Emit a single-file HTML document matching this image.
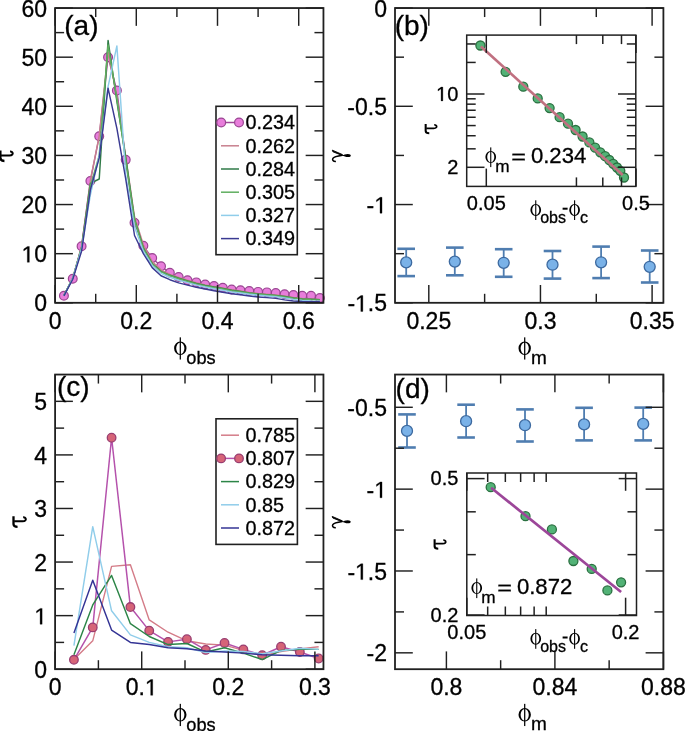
<!DOCTYPE html>
<html><head><meta charset="utf-8"><style>
html,body{margin:0;padding:0;background:#fff;width:685px;height:731px;overflow:hidden}
svg{display:block;will-change:transform}
text{stroke:#000;stroke-width:0.3px}
</style></head><body>
<svg width="685" height="731" viewBox="0 0 685 731">
<rect width="685" height="731" fill="#fff"/>
<defs>
<clipPath id="ca"><rect x="55.1" y="8.05" width="268.34999999999997" height="294.75"/></clipPath>
<clipPath id="cb"><rect x="395.0" y="8.05" width="268.4" height="294.75"/></clipPath>
<clipPath id="cc"><rect x="55.1" y="374.55" width="268.34999999999997" height="294.65000000000003"/></clipPath>
<clipPath id="cd"><rect x="395.0" y="374.55" width="268.4" height="294.65000000000003"/></clipPath>
</defs>
<polyline points="63.93,295.68 72.75,278.73 81.58,246.31 90.40,180.97 99.23,136.27 108.06,57.18 116.88,90.58 125.71,159.85 134.53,222.73 143.36,245.81 152.19,258.10 161.01,266.20 169.84,272.83 178.66,277.01 187.49,280.20 196.32,282.41 205.14,284.62 213.97,286.10 222.79,287.82 231.62,289.54 240.45,290.27 249.27,291.01 258.10,291.89 266.92,292.39 275.75,293.07 284.58,294.20 293.40,294.94 302.23,295.78 311.05,295.78 319.88,298.03" fill="none" stroke="#a0489a" stroke-width="1.4" stroke-linejoin="round" clip-path="url(#ca)"/>
<circle cx="63.93" cy="295.68" r="4.4" fill="#e87ddb" stroke="#9a4592" stroke-width="1.2"/>
<circle cx="72.75" cy="278.73" r="4.4" fill="#e87ddb" stroke="#9a4592" stroke-width="1.2"/>
<circle cx="81.58" cy="246.31" r="4.4" fill="#e87ddb" stroke="#9a4592" stroke-width="1.2"/>
<circle cx="90.40" cy="180.97" r="4.4" fill="#e87ddb" stroke="#9a4592" stroke-width="1.2"/>
<circle cx="99.23" cy="136.27" r="4.4" fill="#e87ddb" stroke="#9a4592" stroke-width="1.2"/>
<circle cx="108.06" cy="57.18" r="4.4" fill="#e87ddb" stroke="#9a4592" stroke-width="1.2"/>
<circle cx="116.88" cy="90.58" r="4.4" fill="#e87ddb" stroke="#9a4592" stroke-width="1.2"/>
<circle cx="125.71" cy="159.85" r="4.4" fill="#e87ddb" stroke="#9a4592" stroke-width="1.2"/>
<circle cx="134.53" cy="222.73" r="4.4" fill="#e87ddb" stroke="#9a4592" stroke-width="1.2"/>
<circle cx="143.36" cy="245.81" r="4.4" fill="#e87ddb" stroke="#9a4592" stroke-width="1.2"/>
<circle cx="152.19" cy="258.10" r="4.4" fill="#e87ddb" stroke="#9a4592" stroke-width="1.2"/>
<circle cx="161.01" cy="266.20" r="4.4" fill="#e87ddb" stroke="#9a4592" stroke-width="1.2"/>
<circle cx="169.84" cy="272.83" r="4.4" fill="#e87ddb" stroke="#9a4592" stroke-width="1.2"/>
<circle cx="178.66" cy="277.01" r="4.4" fill="#e87ddb" stroke="#9a4592" stroke-width="1.2"/>
<circle cx="187.49" cy="280.20" r="4.4" fill="#e87ddb" stroke="#9a4592" stroke-width="1.2"/>
<circle cx="196.32" cy="282.41" r="4.4" fill="#e87ddb" stroke="#9a4592" stroke-width="1.2"/>
<circle cx="205.14" cy="284.62" r="4.4" fill="#e87ddb" stroke="#9a4592" stroke-width="1.2"/>
<circle cx="213.97" cy="286.10" r="4.4" fill="#e87ddb" stroke="#9a4592" stroke-width="1.2"/>
<circle cx="222.79" cy="287.82" r="4.4" fill="#e87ddb" stroke="#9a4592" stroke-width="1.2"/>
<circle cx="231.62" cy="289.54" r="4.4" fill="#e87ddb" stroke="#9a4592" stroke-width="1.2"/>
<circle cx="240.45" cy="290.27" r="4.4" fill="#e87ddb" stroke="#9a4592" stroke-width="1.2"/>
<circle cx="249.27" cy="291.01" r="4.4" fill="#e87ddb" stroke="#9a4592" stroke-width="1.2"/>
<circle cx="258.10" cy="291.89" r="4.4" fill="#e87ddb" stroke="#9a4592" stroke-width="1.2"/>
<circle cx="266.92" cy="292.39" r="4.4" fill="#e87ddb" stroke="#9a4592" stroke-width="1.2"/>
<circle cx="275.75" cy="293.07" r="4.4" fill="#e87ddb" stroke="#9a4592" stroke-width="1.2"/>
<circle cx="284.58" cy="294.20" r="4.4" fill="#e87ddb" stroke="#9a4592" stroke-width="1.2"/>
<circle cx="293.40" cy="294.94" r="4.4" fill="#e87ddb" stroke="#9a4592" stroke-width="1.2"/>
<circle cx="302.23" cy="295.78" r="4.4" fill="#e87ddb" stroke="#9a4592" stroke-width="1.2"/>
<circle cx="311.05" cy="295.78" r="4.4" fill="#e87ddb" stroke="#9a4592" stroke-width="1.2"/>
<circle cx="319.88" cy="298.03" r="4.4" fill="#e87ddb" stroke="#9a4592" stroke-width="1.2"/>
<polyline points="63.93,295.43 72.75,278.24 81.58,246.31 90.40,179.99 99.23,135.78 108.06,52.26 116.88,96.48 125.71,156.41 134.53,216.83 143.36,244.83 152.19,261.54 161.01,269.89 169.84,274.31 178.66,277.50 187.49,280.20 196.32,282.66 205.14,284.87 213.97,286.59 222.79,288.06 231.62,289.78 240.45,291.01 249.27,292.48 258.10,293.47 266.92,294.20 275.75,294.94 284.58,295.92 293.40,297.40 302.23,298.38 311.05,298.87 319.88,299.36" fill="none" stroke="#c8808e" stroke-width="1.45" stroke-linejoin="round" clip-path="url(#ca)"/>
<polyline points="63.93,295.43 72.75,278.24 81.58,247.78 90.40,183.43 99.23,179.00 108.06,40.47 116.88,101.39 125.71,157.39 134.53,219.29 143.36,247.78 152.19,263.50 161.01,271.36 169.84,275.29 178.66,278.24 187.49,280.94 196.32,283.40 205.14,285.36 213.97,287.08 222.79,288.55 231.62,290.27 240.45,291.50 249.27,292.98 258.10,293.96 266.92,294.69 275.75,295.43 284.58,296.41 293.40,297.89 302.23,298.87 311.05,299.26 319.88,299.61" fill="none" stroke="#2f7a47" stroke-width="1.45" stroke-linejoin="round" clip-path="url(#ca)"/>
<polyline points="63.93,295.43 72.75,278.24 81.58,247.78 90.40,185.88 99.23,155.43 108.06,44.89 116.88,98.93 125.71,160.34 134.53,220.27 143.36,248.76 152.19,263.99 161.01,271.85 169.84,275.78 178.66,278.73 187.49,281.43 196.32,283.89 205.14,285.85 213.97,287.57 222.79,289.05 231.62,290.76 240.45,291.99 249.27,293.22 258.10,294.20 266.92,294.94 275.75,295.68 284.58,296.91 293.40,298.13 302.23,299.12 311.05,299.61 319.88,299.85" fill="none" stroke="#5fae5f" stroke-width="1.45" stroke-linejoin="round" clip-path="url(#ca)"/>
<polyline points="63.93,295.92 72.75,278.24 81.58,248.76 90.40,194.73 99.23,155.43 108.06,86.65 116.88,45.88 125.71,175.08 134.53,226.66 143.36,251.22 152.19,265.47 161.01,273.32 169.84,277.25 178.66,280.20 187.49,282.66 196.32,285.12 205.14,287.08 213.97,288.80 222.79,290.27 231.62,291.99 240.45,292.98 249.27,294.20 258.10,295.19 266.92,295.92 275.75,296.66 284.58,297.89 293.40,299.36 302.23,300.59 311.05,301.08 319.88,301.33" fill="none" stroke="#90cdea" stroke-width="1.45" stroke-linejoin="round" clip-path="url(#ca)"/>
<polyline points="63.93,295.92 72.75,279.22 81.58,251.22 90.40,189.81 99.23,157.88 108.06,88.12 116.88,128.41 125.71,179.00 134.53,235.50 143.36,253.68 152.19,267.63 161.01,275.78 169.84,279.71 178.66,282.90 187.49,285.12 196.32,287.33 205.14,289.05 213.97,290.76 222.79,292.24 231.62,293.71 240.45,294.69 249.27,295.92 258.10,296.91 266.92,297.64 275.75,298.38 284.58,299.85 293.40,301.08 302.23,301.57 311.05,301.82 319.88,301.82" fill="none" stroke="#3a3a92" stroke-width="1.45" stroke-linejoin="round" clip-path="url(#ca)"/>
<line x1="55.10" y1="302.80" x2="55.10" y2="285.00" stroke="#202020" stroke-width="1.45" stroke-linecap="butt"/>
<line x1="55.10" y1="8.05" x2="55.10" y2="25.85" stroke="#202020" stroke-width="1.45" stroke-linecap="butt"/>
<line x1="136.30" y1="302.80" x2="136.30" y2="285.00" stroke="#202020" stroke-width="1.45" stroke-linecap="butt"/>
<line x1="136.30" y1="8.05" x2="136.30" y2="25.85" stroke="#202020" stroke-width="1.45" stroke-linecap="butt"/>
<line x1="217.50" y1="302.80" x2="217.50" y2="285.00" stroke="#202020" stroke-width="1.45" stroke-linecap="butt"/>
<line x1="217.50" y1="8.05" x2="217.50" y2="25.85" stroke="#202020" stroke-width="1.45" stroke-linecap="butt"/>
<line x1="298.70" y1="302.80" x2="298.70" y2="285.00" stroke="#202020" stroke-width="1.45" stroke-linecap="butt"/>
<line x1="298.70" y1="8.05" x2="298.70" y2="25.85" stroke="#202020" stroke-width="1.45" stroke-linecap="butt"/>
<line x1="95.70" y1="302.80" x2="95.70" y2="293.80" stroke="#202020" stroke-width="1.45" stroke-linecap="butt"/>
<line x1="95.70" y1="8.05" x2="95.70" y2="17.05" stroke="#202020" stroke-width="1.45" stroke-linecap="butt"/>
<line x1="176.90" y1="302.80" x2="176.90" y2="293.80" stroke="#202020" stroke-width="1.45" stroke-linecap="butt"/>
<line x1="176.90" y1="8.05" x2="176.90" y2="17.05" stroke="#202020" stroke-width="1.45" stroke-linecap="butt"/>
<line x1="258.10" y1="302.80" x2="258.10" y2="293.80" stroke="#202020" stroke-width="1.45" stroke-linecap="butt"/>
<line x1="258.10" y1="8.05" x2="258.10" y2="17.05" stroke="#202020" stroke-width="1.45" stroke-linecap="butt"/>
<line x1="55.10" y1="302.80" x2="72.90" y2="302.80" stroke="#202020" stroke-width="1.45" stroke-linecap="butt"/>
<line x1="323.45" y1="302.80" x2="305.65" y2="302.80" stroke="#202020" stroke-width="1.45" stroke-linecap="butt"/>
<line x1="55.10" y1="253.68" x2="72.90" y2="253.68" stroke="#202020" stroke-width="1.45" stroke-linecap="butt"/>
<line x1="323.45" y1="253.68" x2="305.65" y2="253.68" stroke="#202020" stroke-width="1.45" stroke-linecap="butt"/>
<line x1="55.10" y1="204.55" x2="72.90" y2="204.55" stroke="#202020" stroke-width="1.45" stroke-linecap="butt"/>
<line x1="323.45" y1="204.55" x2="305.65" y2="204.55" stroke="#202020" stroke-width="1.45" stroke-linecap="butt"/>
<line x1="55.10" y1="155.43" x2="72.90" y2="155.43" stroke="#202020" stroke-width="1.45" stroke-linecap="butt"/>
<line x1="323.45" y1="155.43" x2="305.65" y2="155.43" stroke="#202020" stroke-width="1.45" stroke-linecap="butt"/>
<line x1="55.10" y1="106.30" x2="72.90" y2="106.30" stroke="#202020" stroke-width="1.45" stroke-linecap="butt"/>
<line x1="323.45" y1="106.30" x2="305.65" y2="106.30" stroke="#202020" stroke-width="1.45" stroke-linecap="butt"/>
<line x1="55.10" y1="57.18" x2="72.90" y2="57.18" stroke="#202020" stroke-width="1.45" stroke-linecap="butt"/>
<line x1="323.45" y1="57.18" x2="305.65" y2="57.18" stroke="#202020" stroke-width="1.45" stroke-linecap="butt"/>
<line x1="55.10" y1="8.05" x2="72.90" y2="8.05" stroke="#202020" stroke-width="1.45" stroke-linecap="butt"/>
<line x1="323.45" y1="8.05" x2="305.65" y2="8.05" stroke="#202020" stroke-width="1.45" stroke-linecap="butt"/>
<line x1="55.10" y1="278.24" x2="64.10" y2="278.24" stroke="#202020" stroke-width="1.45" stroke-linecap="butt"/>
<line x1="323.45" y1="278.24" x2="314.45" y2="278.24" stroke="#202020" stroke-width="1.45" stroke-linecap="butt"/>
<line x1="55.10" y1="229.11" x2="64.10" y2="229.11" stroke="#202020" stroke-width="1.45" stroke-linecap="butt"/>
<line x1="323.45" y1="229.11" x2="314.45" y2="229.11" stroke="#202020" stroke-width="1.45" stroke-linecap="butt"/>
<line x1="55.10" y1="179.99" x2="64.10" y2="179.99" stroke="#202020" stroke-width="1.45" stroke-linecap="butt"/>
<line x1="323.45" y1="179.99" x2="314.45" y2="179.99" stroke="#202020" stroke-width="1.45" stroke-linecap="butt"/>
<line x1="55.10" y1="130.86" x2="64.10" y2="130.86" stroke="#202020" stroke-width="1.45" stroke-linecap="butt"/>
<line x1="323.45" y1="130.86" x2="314.45" y2="130.86" stroke="#202020" stroke-width="1.45" stroke-linecap="butt"/>
<line x1="55.10" y1="81.74" x2="64.10" y2="81.74" stroke="#202020" stroke-width="1.45" stroke-linecap="butt"/>
<line x1="323.45" y1="81.74" x2="314.45" y2="81.74" stroke="#202020" stroke-width="1.45" stroke-linecap="butt"/>
<line x1="55.10" y1="32.61" x2="64.10" y2="32.61" stroke="#202020" stroke-width="1.45" stroke-linecap="butt"/>
<line x1="323.45" y1="32.61" x2="314.45" y2="32.61" stroke="#202020" stroke-width="1.45" stroke-linecap="butt"/>
<rect x="55.10" y="8.05" width="268.35" height="294.75" stroke="#202020" stroke-width="1.8" fill="none"/>
<text x="55.10" y="328.90" font-family="Liberation Sans" font-size="23" text-anchor="middle">0</text>
<text x="136.30" y="328.90" font-family="Liberation Sans" font-size="23" text-anchor="middle">0.2</text>
<text x="217.50" y="328.90" font-family="Liberation Sans" font-size="23" text-anchor="middle">0.4</text>
<text x="298.70" y="328.90" font-family="Liberation Sans" font-size="23" text-anchor="middle">0.6</text>
<text x="47.10" y="311.41" font-family="Liberation Sans" font-size="23" text-anchor="end">0</text>
<g transform="translate(47.10,262.29)"><path transform="translate(-25.58,0) scale(0.011230,-0.011230)" d="M515,0 L515,1237 L197,1010 L197,1180 L530,1409 L696,1409 L696,0 Z" fill="#000" stroke="#000" stroke-width="26.7"/><text x="-12.79" y="0" font-family="Liberation Sans" font-size="23">0</text></g>
<text x="47.10" y="213.16" font-family="Liberation Sans" font-size="23" text-anchor="end">20</text>
<text x="47.10" y="164.04" font-family="Liberation Sans" font-size="23" text-anchor="end">30</text>
<text x="47.10" y="114.91" font-family="Liberation Sans" font-size="23" text-anchor="end">40</text>
<text x="47.10" y="65.79" font-family="Liberation Sans" font-size="23" text-anchor="end">50</text>
<text x="47.10" y="16.66" font-family="Liberation Sans" font-size="23" text-anchor="end">60</text>
<text x="64.30" y="35.00" font-family="Liberation Sans" font-size="28" text-anchor="start">(a)</text>
<rect x="216.00" y="106.30" width="81.30" height="148.40" stroke="#202020" stroke-width="1.6" fill="#fff"/>
<line x1="221.00" y1="122.50" x2="239.00" y2="122.50" stroke="#a0489a" stroke-width="1.5" stroke-linecap="butt"/>
<circle cx="221.20" cy="122.50" r="4.4" fill="#e87ddb" stroke="#9a4592" stroke-width="1.2"/>
<circle cx="239.00" cy="122.50" r="4.4" fill="#e87ddb" stroke="#9a4592" stroke-width="1.2"/>
<text x="245.60" y="129.31" font-family="Liberation Sans" font-size="19.8" text-anchor="start">0.234</text>
<line x1="221.00" y1="145.80" x2="239.00" y2="145.80" stroke="#c8808e" stroke-width="1.5" stroke-linecap="butt"/>
<text x="245.60" y="152.61" font-family="Liberation Sans" font-size="19.8" text-anchor="start">0.262</text>
<line x1="221.00" y1="169.00" x2="239.00" y2="169.00" stroke="#2f7a47" stroke-width="1.5" stroke-linecap="butt"/>
<text x="245.60" y="175.81" font-family="Liberation Sans" font-size="19.8" text-anchor="start">0.284</text>
<line x1="221.00" y1="192.20" x2="239.00" y2="192.20" stroke="#5fae5f" stroke-width="1.5" stroke-linecap="butt"/>
<text x="245.60" y="199.01" font-family="Liberation Sans" font-size="19.8" text-anchor="start">0.305</text>
<line x1="221.00" y1="215.40" x2="239.00" y2="215.40" stroke="#90cdea" stroke-width="1.5" stroke-linecap="butt"/>
<text x="245.60" y="222.21" font-family="Liberation Sans" font-size="19.8" text-anchor="start">0.327</text>
<line x1="221.00" y1="238.60" x2="239.00" y2="238.60" stroke="#3a3a92" stroke-width="1.5" stroke-linecap="butt"/>
<text x="245.60" y="245.41" font-family="Liberation Sans" font-size="19.8" text-anchor="start">0.349</text>
<path d="M174.10,348.30 A6.2,6.75 0 1 0 186.50,348.30 A6.2,6.75 0 1 0 174.10,348.30 Z M176.20,348.30 A4.1,5.8 0 1 0 184.40,348.30 A4.1,5.8 0 1 0 176.20,348.30 Z" fill="#000" fill-rule="evenodd"/>
<rect x="179.68" y="337.35" width="1.25" height="22.20" fill="#000"/>
<text transform="translate(186.30,364.00) scale(0.96,1)" font-family="Liberation Sans" font-size="19" text-anchor="start">obs</text>
<line x1="406.20" y1="248.80" x2="406.20" y2="276.10" stroke="#4f7db0" stroke-width="1.8" stroke-linecap="butt"/>
<line x1="397.40" y1="248.80" x2="415.00" y2="248.80" stroke="#4f7db0" stroke-width="2.6" stroke-linecap="butt"/>
<line x1="397.40" y1="276.10" x2="415.00" y2="276.10" stroke="#4f7db0" stroke-width="2.6" stroke-linecap="butt"/>
<circle cx="406.20" cy="262.40" r="5.5" fill="#7ab2e8" stroke="#3d6aa0" stroke-width="1.3"/>
<line x1="454.80" y1="247.60" x2="454.80" y2="275.30" stroke="#4f7db0" stroke-width="1.8" stroke-linecap="butt"/>
<line x1="446.00" y1="247.60" x2="463.60" y2="247.60" stroke="#4f7db0" stroke-width="2.6" stroke-linecap="butt"/>
<line x1="446.00" y1="275.30" x2="463.60" y2="275.30" stroke="#4f7db0" stroke-width="2.6" stroke-linecap="butt"/>
<circle cx="454.80" cy="261.60" r="5.5" fill="#7ab2e8" stroke="#3d6aa0" stroke-width="1.3"/>
<line x1="503.70" y1="249.20" x2="503.70" y2="276.80" stroke="#4f7db0" stroke-width="1.8" stroke-linecap="butt"/>
<line x1="494.90" y1="249.20" x2="512.50" y2="249.20" stroke="#4f7db0" stroke-width="2.6" stroke-linecap="butt"/>
<line x1="494.90" y1="276.80" x2="512.50" y2="276.80" stroke="#4f7db0" stroke-width="2.6" stroke-linecap="butt"/>
<circle cx="503.70" cy="262.80" r="5.5" fill="#7ab2e8" stroke="#3d6aa0" stroke-width="1.3"/>
<line x1="552.50" y1="251.00" x2="552.50" y2="278.60" stroke="#4f7db0" stroke-width="1.8" stroke-linecap="butt"/>
<line x1="543.70" y1="251.00" x2="561.30" y2="251.00" stroke="#4f7db0" stroke-width="2.6" stroke-linecap="butt"/>
<line x1="543.70" y1="278.60" x2="561.30" y2="278.60" stroke="#4f7db0" stroke-width="2.6" stroke-linecap="butt"/>
<circle cx="552.50" cy="264.70" r="5.5" fill="#7ab2e8" stroke="#3d6aa0" stroke-width="1.3"/>
<line x1="601.10" y1="246.60" x2="601.10" y2="278.10" stroke="#4f7db0" stroke-width="1.8" stroke-linecap="butt"/>
<line x1="592.30" y1="246.60" x2="609.90" y2="246.60" stroke="#4f7db0" stroke-width="2.6" stroke-linecap="butt"/>
<line x1="592.30" y1="278.10" x2="609.90" y2="278.10" stroke="#4f7db0" stroke-width="2.6" stroke-linecap="butt"/>
<circle cx="601.10" cy="262.30" r="5.5" fill="#7ab2e8" stroke="#3d6aa0" stroke-width="1.3"/>
<line x1="649.70" y1="250.50" x2="649.70" y2="282.50" stroke="#4f7db0" stroke-width="1.8" stroke-linecap="butt"/>
<line x1="640.90" y1="250.50" x2="658.50" y2="250.50" stroke="#4f7db0" stroke-width="2.6" stroke-linecap="butt"/>
<line x1="640.90" y1="282.50" x2="658.50" y2="282.50" stroke="#4f7db0" stroke-width="2.6" stroke-linecap="butt"/>
<circle cx="649.70" cy="266.80" r="5.5" fill="#7ab2e8" stroke="#3d6aa0" stroke-width="1.3"/>
<line x1="428.80" y1="302.80" x2="428.80" y2="285.00" stroke="#202020" stroke-width="1.45" stroke-linecap="butt"/>
<line x1="428.80" y1="8.05" x2="428.80" y2="25.85" stroke="#202020" stroke-width="1.45" stroke-linecap="butt"/>
<line x1="540.45" y1="302.80" x2="540.45" y2="285.00" stroke="#202020" stroke-width="1.45" stroke-linecap="butt"/>
<line x1="540.45" y1="8.05" x2="540.45" y2="25.85" stroke="#202020" stroke-width="1.45" stroke-linecap="butt"/>
<line x1="652.10" y1="302.80" x2="652.10" y2="285.00" stroke="#202020" stroke-width="1.45" stroke-linecap="butt"/>
<line x1="652.10" y1="8.05" x2="652.10" y2="25.85" stroke="#202020" stroke-width="1.45" stroke-linecap="butt"/>
<line x1="484.63" y1="302.80" x2="484.63" y2="293.80" stroke="#202020" stroke-width="1.45" stroke-linecap="butt"/>
<line x1="484.63" y1="8.05" x2="484.63" y2="17.05" stroke="#202020" stroke-width="1.45" stroke-linecap="butt"/>
<line x1="596.28" y1="302.80" x2="596.28" y2="293.80" stroke="#202020" stroke-width="1.45" stroke-linecap="butt"/>
<line x1="596.28" y1="8.05" x2="596.28" y2="17.05" stroke="#202020" stroke-width="1.45" stroke-linecap="butt"/>
<line x1="395.00" y1="8.05" x2="412.80" y2="8.05" stroke="#202020" stroke-width="1.45" stroke-linecap="butt"/>
<line x1="663.40" y1="8.05" x2="645.60" y2="8.05" stroke="#202020" stroke-width="1.45" stroke-linecap="butt"/>
<line x1="395.00" y1="106.30" x2="412.80" y2="106.30" stroke="#202020" stroke-width="1.45" stroke-linecap="butt"/>
<line x1="663.40" y1="106.30" x2="645.60" y2="106.30" stroke="#202020" stroke-width="1.45" stroke-linecap="butt"/>
<line x1="395.00" y1="204.55" x2="412.80" y2="204.55" stroke="#202020" stroke-width="1.45" stroke-linecap="butt"/>
<line x1="663.40" y1="204.55" x2="645.60" y2="204.55" stroke="#202020" stroke-width="1.45" stroke-linecap="butt"/>
<line x1="395.00" y1="302.80" x2="412.80" y2="302.80" stroke="#202020" stroke-width="1.45" stroke-linecap="butt"/>
<line x1="663.40" y1="302.80" x2="645.60" y2="302.80" stroke="#202020" stroke-width="1.45" stroke-linecap="butt"/>
<line x1="395.00" y1="57.17" x2="404.00" y2="57.17" stroke="#202020" stroke-width="1.45" stroke-linecap="butt"/>
<line x1="663.40" y1="57.17" x2="654.40" y2="57.17" stroke="#202020" stroke-width="1.45" stroke-linecap="butt"/>
<line x1="395.00" y1="155.43" x2="404.00" y2="155.43" stroke="#202020" stroke-width="1.45" stroke-linecap="butt"/>
<line x1="663.40" y1="155.43" x2="654.40" y2="155.43" stroke="#202020" stroke-width="1.45" stroke-linecap="butt"/>
<line x1="395.00" y1="253.68" x2="404.00" y2="253.68" stroke="#202020" stroke-width="1.45" stroke-linecap="butt"/>
<line x1="663.40" y1="253.68" x2="654.40" y2="253.68" stroke="#202020" stroke-width="1.45" stroke-linecap="butt"/>
<rect x="395.00" y="8.05" width="268.40" height="294.75" stroke="#202020" stroke-width="1.8" fill="none"/>
<text x="428.80" y="328.90" font-family="Liberation Sans" font-size="23" text-anchor="middle">0.25</text>
<text x="540.45" y="328.90" font-family="Liberation Sans" font-size="23" text-anchor="middle">0.3</text>
<text x="652.10" y="328.90" font-family="Liberation Sans" font-size="23" text-anchor="middle">0.35</text>
<text x="387.00" y="16.66" font-family="Liberation Sans" font-size="23" text-anchor="end">0</text>
<text x="387.00" y="114.91" font-family="Liberation Sans" font-size="23" text-anchor="end">-0.5</text>
<g transform="translate(387.00,213.16)"><text x="-20.45" y="0" font-family="Liberation Sans" font-size="23">-</text><path transform="translate(-12.79,0) scale(0.011230,-0.011230)" d="M515,0 L515,1237 L197,1010 L197,1180 L530,1409 L696,1409 L696,0 Z" fill="#000" stroke="#000" stroke-width="26.7"/></g>
<g transform="translate(387.00,311.41)"><text x="-39.63" y="0" font-family="Liberation Sans" font-size="23">-</text><path transform="translate(-31.97,0) scale(0.011230,-0.011230)" d="M515,0 L515,1237 L197,1010 L197,1180 L530,1409 L696,1409 L696,0 Z" fill="#000" stroke="#000" stroke-width="26.7"/><text x="-19.18" y="0" font-family="Liberation Sans" font-size="23">.5</text></g>
<text x="394.70" y="35.40" font-family="Liberation Sans" font-size="28" text-anchor="start">(b)</text>
<path d="M518.50,348.30 A6.2,6.75 0 1 0 530.90,348.30 A6.2,6.75 0 1 0 518.50,348.30 Z M520.60,348.30 A4.1,5.8 0 1 0 528.80,348.30 A4.1,5.8 0 1 0 520.60,348.30 Z" fill="#000" fill-rule="evenodd"/>
<rect x="524.08" y="337.35" width="1.25" height="22.20" fill="#000"/>
<text x="531.00" y="363.90" font-family="Liberation Sans" font-size="19" text-anchor="start">m</text>
<defs>
<clipPath id="cib"><rect x="466.7" y="35.1" width="169.09999999999997" height="151.3"/></clipPath>
</defs>
<rect x="466.7" y="35.1" width="169.1" height="151.3" fill="#fff"/>
<circle cx="480.40" cy="45.50" r="4.5" fill="#52b276" stroke="#2a7040" stroke-width="1.3"/>
<circle cx="505.60" cy="71.80" r="4.5" fill="#52b276" stroke="#2a7040" stroke-width="1.3"/>
<circle cx="523.30" cy="86.70" r="4.5" fill="#52b276" stroke="#2a7040" stroke-width="1.3"/>
<circle cx="537.70" cy="98.40" r="4.5" fill="#52b276" stroke="#2a7040" stroke-width="1.3"/>
<circle cx="549.60" cy="108.10" r="4.5" fill="#52b276" stroke="#2a7040" stroke-width="1.3"/>
<circle cx="559.60" cy="117.20" r="4.5" fill="#52b276" stroke="#2a7040" stroke-width="1.3"/>
<circle cx="568.00" cy="123.70" r="4.5" fill="#52b276" stroke="#2a7040" stroke-width="1.3"/>
<circle cx="575.60" cy="130.00" r="4.5" fill="#52b276" stroke="#2a7040" stroke-width="1.3"/>
<circle cx="582.60" cy="136.50" r="4.5" fill="#52b276" stroke="#2a7040" stroke-width="1.3"/>
<circle cx="589.40" cy="142.40" r="4.5" fill="#52b276" stroke="#2a7040" stroke-width="1.3"/>
<circle cx="595.10" cy="147.70" r="4.5" fill="#52b276" stroke="#2a7040" stroke-width="1.3"/>
<circle cx="600.30" cy="152.30" r="4.5" fill="#52b276" stroke="#2a7040" stroke-width="1.3"/>
<circle cx="605.10" cy="156.20" r="4.5" fill="#52b276" stroke="#2a7040" stroke-width="1.3"/>
<circle cx="609.30" cy="160.00" r="4.5" fill="#52b276" stroke="#2a7040" stroke-width="1.3"/>
<circle cx="613.20" cy="163.80" r="4.5" fill="#52b276" stroke="#2a7040" stroke-width="1.3"/>
<circle cx="617.00" cy="167.50" r="4.5" fill="#52b276" stroke="#2a7040" stroke-width="1.3"/>
<circle cx="620.30" cy="170.80" r="4.5" fill="#52b276" stroke="#2a7040" stroke-width="1.3"/>
<circle cx="624.00" cy="177.50" r="4.5" fill="#52b276" stroke="#2a7040" stroke-width="1.3"/>
<polyline points="480.90,46.40 622.70,175.00" fill="none" stroke="#c07080" stroke-width="2.7" stroke-linejoin="round" clip-path="url(#cib)"/>
<line x1="486.30" y1="186.40" x2="486.30" y2="168.60" stroke="#202020" stroke-width="1.5" stroke-linecap="butt"/>
<line x1="486.30" y1="35.10" x2="486.30" y2="52.90" stroke="#202020" stroke-width="1.5" stroke-linecap="butt"/>
<line x1="636.00" y1="186.40" x2="636.00" y2="168.60" stroke="#202020" stroke-width="1.5" stroke-linecap="butt"/>
<line x1="636.00" y1="35.10" x2="636.00" y2="52.90" stroke="#202020" stroke-width="1.5" stroke-linecap="butt"/>
<line x1="576.43" y1="186.40" x2="576.43" y2="177.40" stroke="#202020" stroke-width="1.5" stroke-linecap="butt"/>
<line x1="576.43" y1="35.10" x2="576.43" y2="44.10" stroke="#202020" stroke-width="1.5" stroke-linecap="butt"/>
<line x1="602.79" y1="186.40" x2="602.79" y2="177.40" stroke="#202020" stroke-width="1.5" stroke-linecap="butt"/>
<line x1="602.79" y1="35.10" x2="602.79" y2="44.10" stroke="#202020" stroke-width="1.5" stroke-linecap="butt"/>
<line x1="621.49" y1="186.40" x2="621.49" y2="177.40" stroke="#202020" stroke-width="1.5" stroke-linecap="butt"/>
<line x1="621.49" y1="35.10" x2="621.49" y2="44.10" stroke="#202020" stroke-width="1.5" stroke-linecap="butt"/>
<line x1="466.70" y1="167.30" x2="484.50" y2="167.30" stroke="#202020" stroke-width="1.5" stroke-linecap="butt"/>
<line x1="635.80" y1="167.30" x2="618.00" y2="167.30" stroke="#202020" stroke-width="1.5" stroke-linecap="butt"/>
<line x1="466.70" y1="94.00" x2="484.50" y2="94.00" stroke="#202020" stroke-width="1.5" stroke-linecap="butt"/>
<line x1="635.80" y1="94.00" x2="618.00" y2="94.00" stroke="#202020" stroke-width="1.5" stroke-linecap="butt"/>
<line x1="466.70" y1="148.83" x2="475.70" y2="148.83" stroke="#202020" stroke-width="1.5" stroke-linecap="butt"/>
<line x1="635.80" y1="148.83" x2="626.80" y2="148.83" stroke="#202020" stroke-width="1.5" stroke-linecap="butt"/>
<line x1="466.70" y1="135.73" x2="475.70" y2="135.73" stroke="#202020" stroke-width="1.5" stroke-linecap="butt"/>
<line x1="635.80" y1="135.73" x2="626.80" y2="135.73" stroke="#202020" stroke-width="1.5" stroke-linecap="butt"/>
<line x1="466.70" y1="125.57" x2="475.70" y2="125.57" stroke="#202020" stroke-width="1.5" stroke-linecap="butt"/>
<line x1="635.80" y1="125.57" x2="626.80" y2="125.57" stroke="#202020" stroke-width="1.5" stroke-linecap="butt"/>
<line x1="466.70" y1="117.26" x2="475.70" y2="117.26" stroke="#202020" stroke-width="1.5" stroke-linecap="butt"/>
<line x1="635.80" y1="117.26" x2="626.80" y2="117.26" stroke="#202020" stroke-width="1.5" stroke-linecap="butt"/>
<line x1="466.70" y1="110.24" x2="475.70" y2="110.24" stroke="#202020" stroke-width="1.5" stroke-linecap="butt"/>
<line x1="635.80" y1="110.24" x2="626.80" y2="110.24" stroke="#202020" stroke-width="1.5" stroke-linecap="butt"/>
<line x1="466.70" y1="104.16" x2="475.70" y2="104.16" stroke="#202020" stroke-width="1.5" stroke-linecap="butt"/>
<line x1="635.80" y1="104.16" x2="626.80" y2="104.16" stroke="#202020" stroke-width="1.5" stroke-linecap="butt"/>
<line x1="466.70" y1="98.80" x2="475.70" y2="98.80" stroke="#202020" stroke-width="1.5" stroke-linecap="butt"/>
<line x1="635.80" y1="98.80" x2="626.80" y2="98.80" stroke="#202020" stroke-width="1.5" stroke-linecap="butt"/>
<line x1="466.70" y1="62.43" x2="475.70" y2="62.43" stroke="#202020" stroke-width="1.5" stroke-linecap="butt"/>
<line x1="635.80" y1="62.43" x2="626.80" y2="62.43" stroke="#202020" stroke-width="1.5" stroke-linecap="butt"/>
<line x1="466.70" y1="43.96" x2="475.70" y2="43.96" stroke="#202020" stroke-width="1.5" stroke-linecap="butt"/>
<line x1="635.80" y1="43.96" x2="626.80" y2="43.96" stroke="#202020" stroke-width="1.5" stroke-linecap="butt"/>
<rect x="466.70" y="35.10" width="169.10" height="151.30" stroke="#202020" stroke-width="1.5" fill="none"/>
<g transform="translate(458.30,100.88)"><path transform="translate(-22.25,0) scale(0.009766,-0.009766)" d="M515,0 L515,1237 L197,1010 L197,1180 L530,1409 L696,1409 L696,0 Z" fill="#000" stroke="#000" stroke-width="30.7"/><text x="-11.12" y="0" font-family="Liberation Sans" font-size="20">0</text></g>
<text x="458.30" y="174.18" font-family="Liberation Sans" font-size="20" text-anchor="end">2</text>
<text x="486.30" y="209.70" font-family="Liberation Sans" font-size="20" text-anchor="middle">0.05</text>
<text x="636.00" y="209.70" font-family="Liberation Sans" font-size="20" text-anchor="middle">0.5</text>
<polyline points="73.93,659.56 92.75,640.81 111.58,566.34 130.40,564.73 149.23,619.91 168.06,632.23 186.88,640.81 205.71,644.02 224.53,645.09 243.36,650.45 262.19,655.81 281.01,651.52 299.84,648.84 318.66,646.70" fill="none" stroke="#d47c88" stroke-width="1.4" stroke-linejoin="round" clip-path="url(#cc)"/>
<polyline points="73.93,659.82 92.75,627.41 111.58,437.77 130.40,607.06 149.23,630.63 168.06,641.88 186.88,639.20 205.71,649.91 224.53,642.95 243.36,649.38 262.19,655.27 281.01,646.70 299.84,652.06 318.66,658.49" fill="none" stroke="#b552ac" stroke-width="1.5" stroke-linejoin="round" clip-path="url(#cc)"/>
<circle cx="73.93" cy="659.82" r="4.3" fill="#d66478" stroke="#993d70" stroke-width="1.3"/>
<circle cx="92.75" cy="627.41" r="4.3" fill="#d66478" stroke="#993d70" stroke-width="1.3"/>
<circle cx="111.58" cy="437.77" r="4.3" fill="#d66478" stroke="#993d70" stroke-width="1.3"/>
<circle cx="130.40" cy="607.06" r="4.3" fill="#d66478" stroke="#993d70" stroke-width="1.3"/>
<circle cx="149.23" cy="630.63" r="4.3" fill="#d66478" stroke="#993d70" stroke-width="1.3"/>
<circle cx="168.06" cy="641.88" r="4.3" fill="#d66478" stroke="#993d70" stroke-width="1.3"/>
<circle cx="186.88" cy="639.20" r="4.3" fill="#d66478" stroke="#993d70" stroke-width="1.3"/>
<circle cx="205.71" cy="649.91" r="4.3" fill="#d66478" stroke="#993d70" stroke-width="1.3"/>
<circle cx="224.53" cy="642.95" r="4.3" fill="#d66478" stroke="#993d70" stroke-width="1.3"/>
<circle cx="243.36" cy="649.38" r="4.3" fill="#d66478" stroke="#993d70" stroke-width="1.3"/>
<circle cx="262.19" cy="655.27" r="4.3" fill="#d66478" stroke="#993d70" stroke-width="1.3"/>
<circle cx="281.01" cy="646.70" r="4.3" fill="#d66478" stroke="#993d70" stroke-width="1.3"/>
<circle cx="299.84" cy="652.06" r="4.3" fill="#d66478" stroke="#993d70" stroke-width="1.3"/>
<circle cx="318.66" cy="658.49" r="4.3" fill="#d66478" stroke="#993d70" stroke-width="1.3"/>
<polyline points="73.93,654.74 92.75,604.91 111.58,575.45 130.40,623.66 149.23,636.52 168.06,644.56 186.88,643.49 205.71,652.06 224.53,647.77 243.36,653.13 262.19,659.56 281.01,650.45 299.84,649.38 318.66,649.38" fill="none" stroke="#2c8547" stroke-width="1.45" stroke-linejoin="round" clip-path="url(#cc)"/>
<polyline points="73.93,645.63 92.75,526.70 111.58,610.81 130.40,634.91 149.23,642.41 168.06,646.70 186.88,647.77 205.71,652.59 224.53,650.99 243.36,651.52 262.19,653.66 281.01,650.99 299.84,648.31 318.66,649.38" fill="none" stroke="#90cdea" stroke-width="1.45" stroke-linejoin="round" clip-path="url(#cc)"/>
<polyline points="73.93,633.04 92.75,580.27 111.58,630.09 130.40,642.41 149.23,644.56 168.06,647.77 186.88,648.84 205.71,650.99 224.53,652.06 243.36,653.13 262.19,654.74 281.01,655.27 299.84,655.81 318.66,655.81" fill="none" stroke="#343495" stroke-width="1.45" stroke-linejoin="round" clip-path="url(#cc)"/>
<line x1="55.10" y1="669.20" x2="55.10" y2="651.40" stroke="#202020" stroke-width="1.45" stroke-linecap="butt"/>
<line x1="55.10" y1="374.55" x2="55.10" y2="392.35" stroke="#202020" stroke-width="1.45" stroke-linecap="butt"/>
<line x1="141.70" y1="669.20" x2="141.70" y2="651.40" stroke="#202020" stroke-width="1.45" stroke-linecap="butt"/>
<line x1="141.70" y1="374.55" x2="141.70" y2="392.35" stroke="#202020" stroke-width="1.45" stroke-linecap="butt"/>
<line x1="228.30" y1="669.20" x2="228.30" y2="651.40" stroke="#202020" stroke-width="1.45" stroke-linecap="butt"/>
<line x1="228.30" y1="374.55" x2="228.30" y2="392.35" stroke="#202020" stroke-width="1.45" stroke-linecap="butt"/>
<line x1="314.90" y1="669.20" x2="314.90" y2="651.40" stroke="#202020" stroke-width="1.45" stroke-linecap="butt"/>
<line x1="314.90" y1="374.55" x2="314.90" y2="392.35" stroke="#202020" stroke-width="1.45" stroke-linecap="butt"/>
<line x1="98.40" y1="669.20" x2="98.40" y2="660.20" stroke="#202020" stroke-width="1.45" stroke-linecap="butt"/>
<line x1="98.40" y1="374.55" x2="98.40" y2="383.55" stroke="#202020" stroke-width="1.45" stroke-linecap="butt"/>
<line x1="185.00" y1="669.20" x2="185.00" y2="660.20" stroke="#202020" stroke-width="1.45" stroke-linecap="butt"/>
<line x1="185.00" y1="374.55" x2="185.00" y2="383.55" stroke="#202020" stroke-width="1.45" stroke-linecap="butt"/>
<line x1="271.60" y1="669.20" x2="271.60" y2="660.20" stroke="#202020" stroke-width="1.45" stroke-linecap="butt"/>
<line x1="271.60" y1="374.55" x2="271.60" y2="383.55" stroke="#202020" stroke-width="1.45" stroke-linecap="butt"/>
<line x1="55.10" y1="669.20" x2="72.90" y2="669.20" stroke="#202020" stroke-width="1.45" stroke-linecap="butt"/>
<line x1="323.45" y1="669.20" x2="305.65" y2="669.20" stroke="#202020" stroke-width="1.45" stroke-linecap="butt"/>
<line x1="55.10" y1="615.63" x2="72.90" y2="615.63" stroke="#202020" stroke-width="1.45" stroke-linecap="butt"/>
<line x1="323.45" y1="615.63" x2="305.65" y2="615.63" stroke="#202020" stroke-width="1.45" stroke-linecap="butt"/>
<line x1="55.10" y1="562.05" x2="72.90" y2="562.05" stroke="#202020" stroke-width="1.45" stroke-linecap="butt"/>
<line x1="323.45" y1="562.05" x2="305.65" y2="562.05" stroke="#202020" stroke-width="1.45" stroke-linecap="butt"/>
<line x1="55.10" y1="508.48" x2="72.90" y2="508.48" stroke="#202020" stroke-width="1.45" stroke-linecap="butt"/>
<line x1="323.45" y1="508.48" x2="305.65" y2="508.48" stroke="#202020" stroke-width="1.45" stroke-linecap="butt"/>
<line x1="55.10" y1="454.91" x2="72.90" y2="454.91" stroke="#202020" stroke-width="1.45" stroke-linecap="butt"/>
<line x1="323.45" y1="454.91" x2="305.65" y2="454.91" stroke="#202020" stroke-width="1.45" stroke-linecap="butt"/>
<line x1="55.10" y1="401.34" x2="72.90" y2="401.34" stroke="#202020" stroke-width="1.45" stroke-linecap="butt"/>
<line x1="323.45" y1="401.34" x2="305.65" y2="401.34" stroke="#202020" stroke-width="1.45" stroke-linecap="butt"/>
<line x1="55.10" y1="642.41" x2="64.10" y2="642.41" stroke="#202020" stroke-width="1.45" stroke-linecap="butt"/>
<line x1="323.45" y1="642.41" x2="314.45" y2="642.41" stroke="#202020" stroke-width="1.45" stroke-linecap="butt"/>
<line x1="55.10" y1="588.84" x2="64.10" y2="588.84" stroke="#202020" stroke-width="1.45" stroke-linecap="butt"/>
<line x1="323.45" y1="588.84" x2="314.45" y2="588.84" stroke="#202020" stroke-width="1.45" stroke-linecap="butt"/>
<line x1="55.10" y1="535.27" x2="64.10" y2="535.27" stroke="#202020" stroke-width="1.45" stroke-linecap="butt"/>
<line x1="323.45" y1="535.27" x2="314.45" y2="535.27" stroke="#202020" stroke-width="1.45" stroke-linecap="butt"/>
<line x1="55.10" y1="481.70" x2="64.10" y2="481.70" stroke="#202020" stroke-width="1.45" stroke-linecap="butt"/>
<line x1="323.45" y1="481.70" x2="314.45" y2="481.70" stroke="#202020" stroke-width="1.45" stroke-linecap="butt"/>
<line x1="55.10" y1="428.12" x2="64.10" y2="428.12" stroke="#202020" stroke-width="1.45" stroke-linecap="butt"/>
<line x1="323.45" y1="428.12" x2="314.45" y2="428.12" stroke="#202020" stroke-width="1.45" stroke-linecap="butt"/>
<rect x="55.10" y="374.55" width="268.35" height="294.65" stroke="#202020" stroke-width="1.8" fill="none"/>
<text x="55.10" y="695.30" font-family="Liberation Sans" font-size="23" text-anchor="middle">0</text>
<g transform="translate(141.70,695.30)"><text x="-15.99" y="0" font-family="Liberation Sans" font-size="23">0.</text><path transform="translate(3.20,0) scale(0.011230,-0.011230)" d="M515,0 L515,1237 L197,1010 L197,1180 L530,1409 L696,1409 L696,0 Z" fill="#000" stroke="#000" stroke-width="26.7"/></g>
<text x="228.30" y="695.30" font-family="Liberation Sans" font-size="23" text-anchor="middle">0.2</text>
<text x="314.90" y="695.30" font-family="Liberation Sans" font-size="23" text-anchor="middle">0.3</text>
<text x="47.10" y="677.81" font-family="Liberation Sans" font-size="23" text-anchor="end">0</text>
<g transform="translate(47.10,624.24)"><path transform="translate(-12.79,0) scale(0.011230,-0.011230)" d="M515,0 L515,1237 L197,1010 L197,1180 L530,1409 L696,1409 L696,0 Z" fill="#000" stroke="#000" stroke-width="26.7"/></g>
<text x="47.10" y="570.67" font-family="Liberation Sans" font-size="23" text-anchor="end">2</text>
<text x="47.10" y="517.09" font-family="Liberation Sans" font-size="23" text-anchor="end">3</text>
<text x="47.10" y="463.52" font-family="Liberation Sans" font-size="23" text-anchor="end">4</text>
<text x="47.10" y="409.95" font-family="Liberation Sans" font-size="23" text-anchor="end">5</text>
<text x="57.00" y="396.30" font-family="Liberation Sans" font-size="28" text-anchor="start">(c)</text>
<path d="M174.10,714.80 A6.2,6.75 0 1 0 186.50,714.80 A6.2,6.75 0 1 0 174.10,714.80 Z M176.20,714.80 A4.1,5.8 0 1 0 184.40,714.80 A4.1,5.8 0 1 0 176.20,714.80 Z" fill="#000" fill-rule="evenodd"/>
<rect x="179.68" y="703.85" width="1.25" height="22.20" fill="#000"/>
<text transform="translate(186.30,730.50) scale(0.96,1)" font-family="Liberation Sans" font-size="19" text-anchor="start">obs</text>
<rect x="216.00" y="418.80" width="81.40" height="125.60" stroke="#202020" stroke-width="1.6" fill="#fff"/>
<line x1="221.00" y1="435.20" x2="239.00" y2="435.20" stroke="#d47c88" stroke-width="1.5" stroke-linecap="butt"/>
<text x="245.60" y="442.01" font-family="Liberation Sans" font-size="19.8" text-anchor="start">0.785</text>
<line x1="221.00" y1="458.40" x2="239.00" y2="458.40" stroke="#b552ac" stroke-width="1.5" stroke-linecap="butt"/>
<circle cx="221.10" cy="458.40" r="4.3" fill="#d66478" stroke="#993d70" stroke-width="1.3"/>
<circle cx="239.00" cy="458.40" r="4.3" fill="#d66478" stroke="#993d70" stroke-width="1.3"/>
<text x="245.60" y="465.21" font-family="Liberation Sans" font-size="19.8" text-anchor="start">0.807</text>
<line x1="221.00" y1="481.60" x2="239.00" y2="481.60" stroke="#2c8547" stroke-width="1.5" stroke-linecap="butt"/>
<text x="245.60" y="488.41" font-family="Liberation Sans" font-size="19.8" text-anchor="start">0.829</text>
<line x1="221.00" y1="504.80" x2="239.00" y2="504.80" stroke="#90cdea" stroke-width="1.5" stroke-linecap="butt"/>
<text x="245.60" y="511.61" font-family="Liberation Sans" font-size="19.8" text-anchor="start">0.85</text>
<line x1="221.00" y1="528.00" x2="239.00" y2="528.00" stroke="#343495" stroke-width="1.5" stroke-linecap="butt"/>
<text x="245.60" y="534.81" font-family="Liberation Sans" font-size="19.8" text-anchor="start">0.872</text>
<line x1="407.00" y1="414.40" x2="407.00" y2="447.50" stroke="#4f7db0" stroke-width="1.8" stroke-linecap="butt"/>
<line x1="398.20" y1="414.40" x2="415.80" y2="414.40" stroke="#4f7db0" stroke-width="2.6" stroke-linecap="butt"/>
<line x1="398.20" y1="447.50" x2="415.80" y2="447.50" stroke="#4f7db0" stroke-width="2.6" stroke-linecap="butt"/>
<circle cx="407.00" cy="430.90" r="5.5" fill="#7ab2e8" stroke="#3d6aa0" stroke-width="1.3"/>
<line x1="466.10" y1="404.70" x2="466.10" y2="437.50" stroke="#4f7db0" stroke-width="1.8" stroke-linecap="butt"/>
<line x1="457.30" y1="404.70" x2="474.90" y2="404.70" stroke="#4f7db0" stroke-width="2.6" stroke-linecap="butt"/>
<line x1="457.30" y1="437.50" x2="474.90" y2="437.50" stroke="#4f7db0" stroke-width="2.6" stroke-linecap="butt"/>
<circle cx="466.10" cy="421.20" r="5.5" fill="#7ab2e8" stroke="#3d6aa0" stroke-width="1.3"/>
<line x1="525.00" y1="409.40" x2="525.00" y2="441.50" stroke="#4f7db0" stroke-width="1.8" stroke-linecap="butt"/>
<line x1="516.20" y1="409.40" x2="533.80" y2="409.40" stroke="#4f7db0" stroke-width="2.6" stroke-linecap="butt"/>
<line x1="516.20" y1="441.50" x2="533.80" y2="441.50" stroke="#4f7db0" stroke-width="2.6" stroke-linecap="butt"/>
<circle cx="525.00" cy="425.20" r="5.5" fill="#7ab2e8" stroke="#3d6aa0" stroke-width="1.3"/>
<line x1="584.10" y1="407.80" x2="584.10" y2="440.40" stroke="#4f7db0" stroke-width="1.8" stroke-linecap="butt"/>
<line x1="575.30" y1="407.80" x2="592.90" y2="407.80" stroke="#4f7db0" stroke-width="2.6" stroke-linecap="butt"/>
<line x1="575.30" y1="440.40" x2="592.90" y2="440.40" stroke="#4f7db0" stroke-width="2.6" stroke-linecap="butt"/>
<circle cx="584.10" cy="424.40" r="5.5" fill="#7ab2e8" stroke="#3d6aa0" stroke-width="1.3"/>
<line x1="643.20" y1="407.60" x2="643.20" y2="440.40" stroke="#4f7db0" stroke-width="1.8" stroke-linecap="butt"/>
<line x1="634.40" y1="407.60" x2="652.00" y2="407.60" stroke="#4f7db0" stroke-width="2.6" stroke-linecap="butt"/>
<line x1="634.40" y1="440.40" x2="652.00" y2="440.40" stroke="#4f7db0" stroke-width="2.6" stroke-linecap="butt"/>
<circle cx="643.20" cy="423.90" r="5.5" fill="#7ab2e8" stroke="#3d6aa0" stroke-width="1.3"/>
<line x1="446.40" y1="669.20" x2="446.40" y2="651.40" stroke="#202020" stroke-width="1.45" stroke-linecap="butt"/>
<line x1="446.40" y1="374.55" x2="446.40" y2="392.35" stroke="#202020" stroke-width="1.45" stroke-linecap="butt"/>
<line x1="554.90" y1="669.20" x2="554.90" y2="651.40" stroke="#202020" stroke-width="1.45" stroke-linecap="butt"/>
<line x1="554.90" y1="374.55" x2="554.90" y2="392.35" stroke="#202020" stroke-width="1.45" stroke-linecap="butt"/>
<line x1="663.40" y1="669.20" x2="663.40" y2="651.40" stroke="#202020" stroke-width="1.45" stroke-linecap="butt"/>
<line x1="663.40" y1="374.55" x2="663.40" y2="392.35" stroke="#202020" stroke-width="1.45" stroke-linecap="butt"/>
<line x1="500.65" y1="669.20" x2="500.65" y2="660.20" stroke="#202020" stroke-width="1.45" stroke-linecap="butt"/>
<line x1="500.65" y1="374.55" x2="500.65" y2="383.55" stroke="#202020" stroke-width="1.45" stroke-linecap="butt"/>
<line x1="609.15" y1="669.20" x2="609.15" y2="660.20" stroke="#202020" stroke-width="1.45" stroke-linecap="butt"/>
<line x1="609.15" y1="374.55" x2="609.15" y2="383.55" stroke="#202020" stroke-width="1.45" stroke-linecap="butt"/>
<line x1="395.00" y1="407.29" x2="412.80" y2="407.29" stroke="#202020" stroke-width="1.45" stroke-linecap="butt"/>
<line x1="663.40" y1="407.29" x2="645.60" y2="407.29" stroke="#202020" stroke-width="1.45" stroke-linecap="butt"/>
<line x1="395.00" y1="489.14" x2="412.80" y2="489.14" stroke="#202020" stroke-width="1.45" stroke-linecap="butt"/>
<line x1="663.40" y1="489.14" x2="645.60" y2="489.14" stroke="#202020" stroke-width="1.45" stroke-linecap="butt"/>
<line x1="395.00" y1="570.98" x2="412.80" y2="570.98" stroke="#202020" stroke-width="1.45" stroke-linecap="butt"/>
<line x1="663.40" y1="570.98" x2="645.60" y2="570.98" stroke="#202020" stroke-width="1.45" stroke-linecap="butt"/>
<line x1="395.00" y1="652.83" x2="412.80" y2="652.83" stroke="#202020" stroke-width="1.45" stroke-linecap="butt"/>
<line x1="663.40" y1="652.83" x2="645.60" y2="652.83" stroke="#202020" stroke-width="1.45" stroke-linecap="butt"/>
<line x1="395.00" y1="448.21" x2="404.00" y2="448.21" stroke="#202020" stroke-width="1.45" stroke-linecap="butt"/>
<line x1="663.40" y1="448.21" x2="654.40" y2="448.21" stroke="#202020" stroke-width="1.45" stroke-linecap="butt"/>
<line x1="395.00" y1="530.06" x2="404.00" y2="530.06" stroke="#202020" stroke-width="1.45" stroke-linecap="butt"/>
<line x1="663.40" y1="530.06" x2="654.40" y2="530.06" stroke="#202020" stroke-width="1.45" stroke-linecap="butt"/>
<line x1="395.00" y1="611.91" x2="404.00" y2="611.91" stroke="#202020" stroke-width="1.45" stroke-linecap="butt"/>
<line x1="663.40" y1="611.91" x2="654.40" y2="611.91" stroke="#202020" stroke-width="1.45" stroke-linecap="butt"/>
<rect x="395.00" y="374.55" width="268.40" height="294.65" stroke="#202020" stroke-width="1.8" fill="none"/>
<text x="446.40" y="695.30" font-family="Liberation Sans" font-size="23" text-anchor="middle">0.8</text>
<text x="554.90" y="695.30" font-family="Liberation Sans" font-size="23" text-anchor="middle">0.84</text>
<text x="663.40" y="695.30" font-family="Liberation Sans" font-size="23" text-anchor="middle">0.88</text>
<text x="387.00" y="415.90" font-family="Liberation Sans" font-size="23" text-anchor="end">-0.5</text>
<g transform="translate(387.00,497.75)"><text x="-20.45" y="0" font-family="Liberation Sans" font-size="23">-</text><path transform="translate(-12.79,0) scale(0.011230,-0.011230)" d="M515,0 L515,1237 L197,1010 L197,1180 L530,1409 L696,1409 L696,0 Z" fill="#000" stroke="#000" stroke-width="26.7"/></g>
<g transform="translate(387.00,579.60)"><text x="-39.63" y="0" font-family="Liberation Sans" font-size="23">-</text><path transform="translate(-31.97,0) scale(0.011230,-0.011230)" d="M515,0 L515,1237 L197,1010 L197,1180 L530,1409 L696,1409 L696,0 Z" fill="#000" stroke="#000" stroke-width="26.7"/><text x="-19.18" y="0" font-family="Liberation Sans" font-size="23">.5</text></g>
<text x="387.00" y="661.44" font-family="Liberation Sans" font-size="23" text-anchor="end">-2</text>
<text x="395.60" y="397.60" font-family="Liberation Sans" font-size="28" text-anchor="start">(d)</text>
<path d="M518.50,714.80 A6.2,6.75 0 1 0 530.90,714.80 A6.2,6.75 0 1 0 518.50,714.80 Z M520.60,714.80 A4.1,5.8 0 1 0 528.80,714.80 A4.1,5.8 0 1 0 520.60,714.80 Z" fill="#000" fill-rule="evenodd"/>
<rect x="524.08" y="703.85" width="1.25" height="22.20" fill="#000"/>
<text x="531.00" y="730.40" font-family="Liberation Sans" font-size="19" text-anchor="start">m</text>
<defs>
<clipPath id="cid"><rect x="466.8" y="473.0" width="169.7" height="142.5"/></clipPath>
</defs>
<rect x="466.8" y="473.0" width="169.7" height="142.5" fill="#fff"/>
<circle cx="490.70" cy="487.20" r="4.5" fill="#52b276" stroke="#2a7040" stroke-width="1.3"/>
<circle cx="525.50" cy="516.20" r="4.5" fill="#52b276" stroke="#2a7040" stroke-width="1.3"/>
<circle cx="551.90" cy="529.40" r="4.5" fill="#52b276" stroke="#2a7040" stroke-width="1.3"/>
<circle cx="573.40" cy="561.00" r="4.5" fill="#52b276" stroke="#2a7040" stroke-width="1.3"/>
<circle cx="591.70" cy="568.90" r="4.5" fill="#52b276" stroke="#2a7040" stroke-width="1.3"/>
<circle cx="607.40" cy="590.40" r="4.5" fill="#52b276" stroke="#2a7040" stroke-width="1.3"/>
<circle cx="621.10" cy="582.30" r="4.5" fill="#52b276" stroke="#2a7040" stroke-width="1.3"/>
<polyline points="491.10,487.80 621.10,592.00" fill="none" stroke="#9c4699" stroke-width="2.7" stroke-linejoin="round" clip-path="url(#cid)"/>
<line x1="466.80" y1="615.50" x2="466.80" y2="597.70" stroke="#202020" stroke-width="1.5" stroke-linecap="butt"/>
<line x1="466.80" y1="473.00" x2="466.80" y2="490.80" stroke="#202020" stroke-width="1.5" stroke-linecap="butt"/>
<line x1="625.60" y1="615.50" x2="625.60" y2="597.70" stroke="#202020" stroke-width="1.5" stroke-linecap="butt"/>
<line x1="625.60" y1="473.00" x2="625.60" y2="490.80" stroke="#202020" stroke-width="1.5" stroke-linecap="butt"/>
<line x1="487.68" y1="615.50" x2="487.68" y2="606.50" stroke="#202020" stroke-width="1.5" stroke-linecap="butt"/>
<line x1="487.68" y1="473.00" x2="487.68" y2="482.00" stroke="#202020" stroke-width="1.5" stroke-linecap="butt"/>
<line x1="505.34" y1="615.50" x2="505.34" y2="606.50" stroke="#202020" stroke-width="1.5" stroke-linecap="butt"/>
<line x1="505.34" y1="473.00" x2="505.34" y2="482.00" stroke="#202020" stroke-width="1.5" stroke-linecap="butt"/>
<line x1="520.64" y1="615.50" x2="520.64" y2="606.50" stroke="#202020" stroke-width="1.5" stroke-linecap="butt"/>
<line x1="520.64" y1="473.00" x2="520.64" y2="482.00" stroke="#202020" stroke-width="1.5" stroke-linecap="butt"/>
<line x1="534.13" y1="615.50" x2="534.13" y2="606.50" stroke="#202020" stroke-width="1.5" stroke-linecap="butt"/>
<line x1="534.13" y1="473.00" x2="534.13" y2="482.00" stroke="#202020" stroke-width="1.5" stroke-linecap="butt"/>
<line x1="546.20" y1="615.50" x2="546.20" y2="606.50" stroke="#202020" stroke-width="1.5" stroke-linecap="butt"/>
<line x1="546.20" y1="473.00" x2="546.20" y2="482.00" stroke="#202020" stroke-width="1.5" stroke-linecap="butt"/>
<line x1="466.80" y1="478.60" x2="484.60" y2="478.60" stroke="#202020" stroke-width="1.5" stroke-linecap="butt"/>
<line x1="636.50" y1="478.60" x2="618.70" y2="478.60" stroke="#202020" stroke-width="1.5" stroke-linecap="butt"/>
<line x1="466.80" y1="615.00" x2="484.60" y2="615.00" stroke="#202020" stroke-width="1.5" stroke-linecap="butt"/>
<line x1="636.50" y1="615.00" x2="618.70" y2="615.00" stroke="#202020" stroke-width="1.5" stroke-linecap="butt"/>
<line x1="466.80" y1="554.64" x2="475.80" y2="554.64" stroke="#202020" stroke-width="1.5" stroke-linecap="butt"/>
<line x1="636.50" y1="554.64" x2="627.50" y2="554.64" stroke="#202020" stroke-width="1.5" stroke-linecap="butt"/>
<line x1="466.80" y1="511.82" x2="475.80" y2="511.82" stroke="#202020" stroke-width="1.5" stroke-linecap="butt"/>
<line x1="636.50" y1="511.82" x2="627.50" y2="511.82" stroke="#202020" stroke-width="1.5" stroke-linecap="butt"/>
<rect x="466.80" y="473.00" width="169.70" height="142.50" stroke="#202020" stroke-width="1.5" fill="none"/>
<text x="458.40" y="485.48" font-family="Liberation Sans" font-size="20" text-anchor="end">0.5</text>
<text x="458.40" y="621.88" font-family="Liberation Sans" font-size="20" text-anchor="end">0.2</text>
<text x="466.80" y="638.80" font-family="Liberation Sans" font-size="20" text-anchor="middle">0.05</text>
<text x="625.60" y="638.80" font-family="Liberation Sans" font-size="20" text-anchor="middle">0.2</text>
<path d="M485.40,157.00 A5.35,6.0 0 1 0 496.10,157.00 A5.35,6.0 0 1 0 485.40,157.00 Z M487.20,157.00 A3.55,5.15 0 1 0 494.30,157.00 A3.55,5.15 0 1 0 487.20,157.00 Z" fill="#000" fill-rule="evenodd"/>
<rect x="490.20" y="147.40" width="1.1" height="19.70" fill="#000"/>
<text x="495.20" y="171.70" font-family="Liberation Sans" font-size="17.2" text-anchor="start">m</text>
<text transform="translate(511.20,163.80) scale(1.2,1)" font-family="Liberation Sans" font-size="21" text-anchor="start">=</text>
<text transform="translate(530.90,162.80) scale(1.03,1)" font-family="Liberation Sans" font-size="21.5" text-anchor="start">0.234</text>
<path d="M471.40,588.00 A5.35,6.0 0 1 0 482.10,588.00 A5.35,6.0 0 1 0 471.40,588.00 Z M473.20,588.00 A3.55,5.15 0 1 0 480.30,588.00 A3.55,5.15 0 1 0 473.20,588.00 Z" fill="#000" fill-rule="evenodd"/>
<rect x="476.20" y="578.40" width="1.1" height="19.70" fill="#000"/>
<text x="481.20" y="602.70" font-family="Liberation Sans" font-size="17.2" text-anchor="start">m</text>
<text transform="translate(497.20,594.80) scale(1.2,1)" font-family="Liberation Sans" font-size="21" text-anchor="start">=</text>
<text transform="translate(516.90,593.80) scale(1.03,1)" font-family="Liberation Sans" font-size="21.5" text-anchor="start">0.872</text>
<path d="M530.40,209.90 A5.35,6.0 0 1 0 541.10,209.90 A5.35,6.0 0 1 0 530.40,209.90 Z M532.20,209.90 A3.55,5.15 0 1 0 539.30,209.90 A3.55,5.15 0 1 0 532.20,209.90 Z" fill="#000" fill-rule="evenodd"/>
<rect x="535.20" y="200.30" width="1.1" height="19.70" fill="#000"/>
<text x="540.20" y="223.10" font-family="Liberation Sans" font-size="16" text-anchor="start">obs</text>
<rect x="562.6" y="207.70" width="5" height="2" fill="#000"/>
<path d="M569.25,209.90 A5.35,6.0 0 1 0 579.95,209.90 A5.35,6.0 0 1 0 569.25,209.90 Z M571.05,209.90 A3.55,5.15 0 1 0 578.15,209.90 A3.55,5.15 0 1 0 571.05,209.90 Z" fill="#000" fill-rule="evenodd"/>
<rect x="574.05" y="200.30" width="1.1" height="19.70" fill="#000"/>
<text x="580.00" y="223.10" font-family="Liberation Sans" font-size="16" text-anchor="start">c</text>
<path d="M530.40,638.70 A5.35,6.0 0 1 0 541.10,638.70 A5.35,6.0 0 1 0 530.40,638.70 Z M532.20,638.70 A3.55,5.15 0 1 0 539.30,638.70 A3.55,5.15 0 1 0 532.20,638.70 Z" fill="#000" fill-rule="evenodd"/>
<rect x="535.20" y="629.10" width="1.1" height="19.70" fill="#000"/>
<text x="540.20" y="651.90" font-family="Liberation Sans" font-size="16" text-anchor="start">obs</text>
<rect x="562.6" y="636.50" width="5" height="2" fill="#000"/>
<path d="M569.25,638.70 A5.35,6.0 0 1 0 579.95,638.70 A5.35,6.0 0 1 0 569.25,638.70 Z M571.05,638.70 A3.55,5.15 0 1 0 578.15,638.70 A3.55,5.15 0 1 0 571.05,638.70 Z" fill="#000" fill-rule="evenodd"/>
<rect x="574.05" y="629.10" width="1.1" height="19.70" fill="#000"/>
<text x="580.00" y="651.90" font-family="Liberation Sans" font-size="16" text-anchor="start">c</text>
<g transform="translate(6.05,155.80) scale(1.0)" fill="none" stroke="#000" stroke-linecap="butt"><path d="M-5.65,-5.3 L-5.65,2.6 Q-5.5,5.1 -1.6,5.2" stroke-width="2.3"/><path d="M-5,-0.35 L3.4,-0.35 C6.3,-0.35 7.1,-1.9 6.5,-3.1 C6.1,-3.9 5.2,-4.35 4.0,-4.25" stroke-width="2.0"/></g>
<g transform="translate(19.15,521.60) scale(1.0)" fill="none" stroke="#000" stroke-linecap="butt"><path d="M-5.65,-5.3 L-5.65,2.6 Q-5.5,5.1 -1.6,5.2" stroke-width="2.3"/><path d="M-5,-0.35 L3.4,-0.35 C6.3,-0.35 7.1,-1.9 6.5,-3.1 C6.1,-3.9 5.2,-4.35 4.0,-4.25" stroke-width="2.0"/></g>
<g transform="translate(341.50,155.75)"><path d="M-9.2,-5.6 L-8.6,-4.0 L0.6,-0.3 L0.9,-1.2 Z" fill="#000" stroke="#000" stroke-width="0.9" stroke-linejoin="round"/><path d="M-5.6,5.8 C-8.6,5.9 -9.4,4.0 -8.6,2.6 C-7.6,0.9 -4,0.2 0.8,-0.6" fill="none" stroke="#000" stroke-width="1.5"/><path d="M0.5,-0.7 C2.5,-0.6 3.6,-1.8 6.3,-1.8 C8.3,-1.8 9.3,-1.0 9.3,-0.2 C9.3,0.8 8.2,1.3 6.6,1.3 C4.2,1.3 2.6,0.2 0.5,-0.1 Z" fill="#000"/></g>
<g transform="translate(341.40,522.00)"><path d="M-9.2,-5.6 L-8.6,-4.0 L0.6,-0.3 L0.9,-1.2 Z" fill="#000" stroke="#000" stroke-width="0.9" stroke-linejoin="round"/><path d="M-5.6,5.8 C-8.6,5.9 -9.4,4.0 -8.6,2.6 C-7.6,0.9 -4,0.2 0.8,-0.6" fill="none" stroke="#000" stroke-width="1.5"/><path d="M0.5,-0.7 C2.5,-0.6 3.6,-1.8 6.3,-1.8 C8.3,-1.8 9.3,-1.0 9.3,-0.2 C9.3,0.8 8.2,1.3 6.6,1.3 C4.2,1.3 2.6,0.2 0.5,-0.1 Z" fill="#000"/></g>
<g transform="translate(430.70,128.65) scale(0.89)" fill="none" stroke="#000" stroke-linecap="butt"><path d="M-5.65,-5.3 L-5.65,2.6 Q-5.5,5.1 -1.6,5.2" stroke-width="2.3"/><path d="M-5,-0.35 L3.4,-0.35 C6.3,-0.35 7.1,-1.9 6.5,-3.1 C6.1,-3.9 5.2,-4.35 4.0,-4.25" stroke-width="2.0"/></g>
<g transform="translate(439.70,544.00) scale(0.9)" fill="none" stroke="#000" stroke-linecap="butt"><path d="M-5.65,-5.3 L-5.65,2.6 Q-5.5,5.1 -1.6,5.2" stroke-width="2.3"/><path d="M-5,-0.35 L3.4,-0.35 C6.3,-0.35 7.1,-1.9 6.5,-3.1 C6.1,-3.9 5.2,-4.35 4.0,-4.25" stroke-width="2.0"/></g>
</svg>
</body></html>
